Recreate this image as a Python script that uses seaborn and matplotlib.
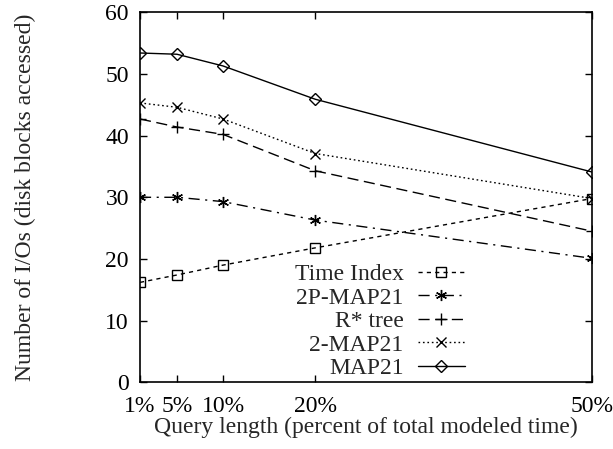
import matplotlib
matplotlib.use("Agg")
import matplotlib.pyplot as plt
import seaborn as sns
import pandas as pd

query_pct = [1, 5, 10, 20, 50]
tick_labels = ["1%", "5%", "10%", "20%", "50%"]
series_names = ["Time Index", "2P-MAP21", "R* tree", "2-MAP21", "MAP21"]
time_index = [16.2, 17.4, 19.0, 21.8, 29.8]
p2_map21 = [30.0, 30.0, 29.3, 26.3, 20.1]
rstar_tree = [42.7, 41.4, 40.2, 34.3, 24.5]
map21_2 = [45.3, 44.6, 42.7, 37.1, 29.8]
map21 = [53.4, 53.2, 51.3, 45.9, 34.1]
values = [time_index, p2_map21, rstar_tree, map21_2, map21]

sns.set_style("ticks")
plt.rcParams["font.family"] = ["Liberation Serif", "DejaVu Serif"]
FS = 17
plt.rcParams["font.size"] = FS

styles = {
    "Time Index": dict(marker="s", ms=7, dashes=(3, 3)),
    "2P-MAP21": dict(marker=(6, 2, 0), ms=8, dashes=(8, 4, 1.5, 4)),
    "R* tree": dict(marker="+", ms=9, dashes=(8, 4)),
    "2-MAP21": dict(marker="x", ms=7, dashes=(1.2, 2)),
    "MAP21": dict(marker="D", ms=6, dashes=()),
}

fig = plt.figure(figsize=(6.13, 4.49), dpi=100)
ax = fig.add_axes([0.2284, 0.1486, 0.7373, 0.824])

for name, vals in zip(series_names, values):
    df = pd.DataFrame({"x": query_pct, "y": vals})
    st = styles[name]
    sns.lineplot(data=df, x="x", y="y", ax=ax, color="black", lw=1.0,
                 marker=st["marker"], markersize=st["ms"],
                 markerfacecolor="none", markeredgecolor="black",
                 markeredgewidth=1.0, label=name)
    line = ax.lines[-1]
    if st["dashes"]:
        line.set_dashes(st["dashes"])

ax.set_xlim(1, 50)
ax.set_ylim(0, 60)
ax.set_xticks(query_pct)
ax.set_xticklabels(tick_labels)
ax.set_yticks(range(0, 61, 10))
ax.tick_params(direction="in", length=5, width=1, top=True, right=True,
               labelsize=FS, colors="black")
ax.tick_params(axis="x", pad=10)
ax.tick_params(axis="y", pad=8)
for s in ax.spines.values():
    s.set_visible(True)
    s.set_linewidth(1.2)
    s.set_color("black")
ax.set_xlabel("Query length (percent of total modeled time)", fontsize=FS, labelpad=0)
ax.set_ylabel("Number of I/Os (disk blocks accessed)", fontsize=FS, labelpad=50)

handles, labels = ax.get_legend_handles_labels()
leg = ax.legend(handles, labels, markerfirst=False, frameon=False,
                loc="lower right", bbox_to_anchor=(465 / 613, 1 - 379 / 449),
                bbox_transform=fig.transFigure, fontsize=FS,
                handlelength=2.0, handletextpad=0.6, labelspacing=0.08,
                borderpad=0, borderaxespad=0)

fig.savefig("out.png", dpi=100)
